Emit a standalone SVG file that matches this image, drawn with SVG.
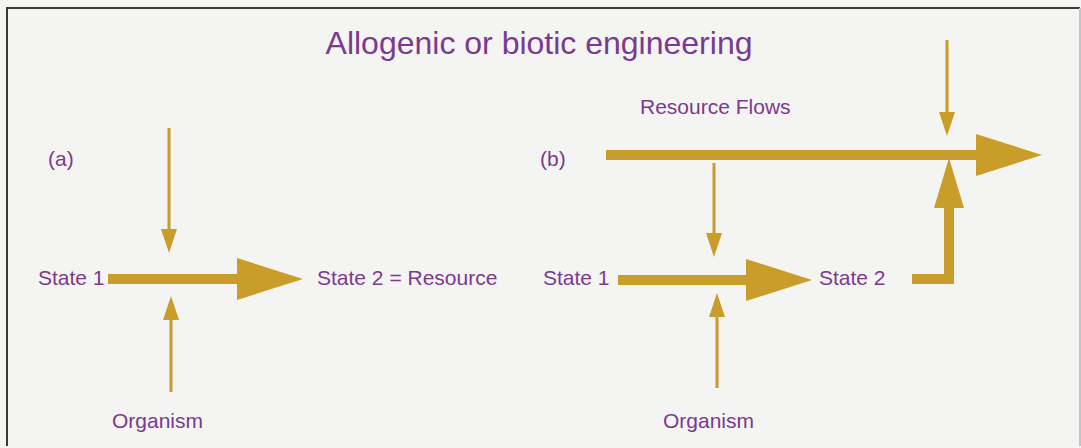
<svg xmlns="http://www.w3.org/2000/svg" width="1081" height="448" viewBox="0 0 1081 448">
<style>
text{font-family:"Liberation Sans",Arial,sans-serif;fill:#7b3a8e}
.lbl{font-size:21px}
.thin{stroke:#c99d2a;stroke-width:3;fill:none}
.thick{stroke:#c99d2a;stroke-width:10;fill:none}
</style>
<defs>
<marker id="hThin" markerUnits="userSpaceOnUse" markerWidth="24" markerHeight="16" refX="4" refY="8" orient="auto" viewBox="0 0 24 16"><path d="M0,0 L24,8 L0,16 Z" fill="#c99d2a"/></marker>
<marker id="hThick" markerUnits="userSpaceOnUse" markerWidth="66" markerHeight="42" refX="10" refY="21" orient="auto" viewBox="0 0 66 42"><path d="M0,0 L66,21 L0,42 Z" fill="#c99d2a"/></marker>
<marker id="hUp" markerUnits="userSpaceOnUse" markerWidth="50" markerHeight="30" refX="10" refY="15" orient="auto" viewBox="0 0 50 30"><path d="M0,0 L50,15 L0,30 Z" fill="#c99d2a"/></marker>
</defs>
<rect x="0" y="0" width="1081" height="448" fill="#f4f4f2"/>
<path d="M7,446 L7,8 L1080,8" fill="none" stroke="#3a3a3a" stroke-width="2"/>
<path d="M1080,8 L1080,446" fill="none" stroke="#c4c4c4" stroke-width="2"/>
<g id="title"><text x="539" y="54" text-anchor="middle" font-size="32">Allogenic or biotic engineering</text></g>
<g id="labelA"><text class="lbl" x="48" y="166">(a)</text></g>
<g id="labelB"><text class="lbl" x="540" y="166">(b)</text></g>
<g id="a-state1"><text class="lbl" x="38" y="285">State 1</text></g>
<g id="a-state2"><text class="lbl" x="317" y="285">State 2 = Resource</text></g>
<g id="a-organism"><text class="lbl" x="112" y="428">Organism</text></g>
<g id="b-resource"><text class="lbl" x="640" y="114">Resource Flows</text></g>
<g id="b-state1"><text class="lbl" x="543" y="285">State 1</text></g>
<g id="b-state2"><text class="lbl" x="819" y="285">State 2</text></g>
<g id="b-organism"><text class="lbl" x="663" y="428">Organism</text></g>
<g id="connectors">
<line class="thick" x1="108" y1="279" x2="247" y2="279" marker-end="url(#hThick)"/>
<line class="thin" x1="169" y1="128" x2="169" y2="233" marker-end="url(#hThin)"/>
<line class="thin" x1="171" y1="392" x2="171" y2="316" marker-end="url(#hThin)"/>
<line class="thick" x1="606" y1="155" x2="986" y2="155" marker-end="url(#hThick)"/>
<line class="thin" x1="947" y1="40" x2="947" y2="116" marker-end="url(#hThin)"/>
<line class="thin" x1="714" y1="163" x2="714" y2="237" marker-end="url(#hThin)"/>
<line class="thin" x1="717" y1="388" x2="717" y2="313" marker-end="url(#hThin)"/>
<line class="thick" x1="618" y1="280" x2="756" y2="280" marker-end="url(#hThick)"/>
<path class="thick" d="M912,279 L949,279 L949,198" stroke-linejoin="miter" marker-end="url(#hUp)"/>
</g>
</svg>
